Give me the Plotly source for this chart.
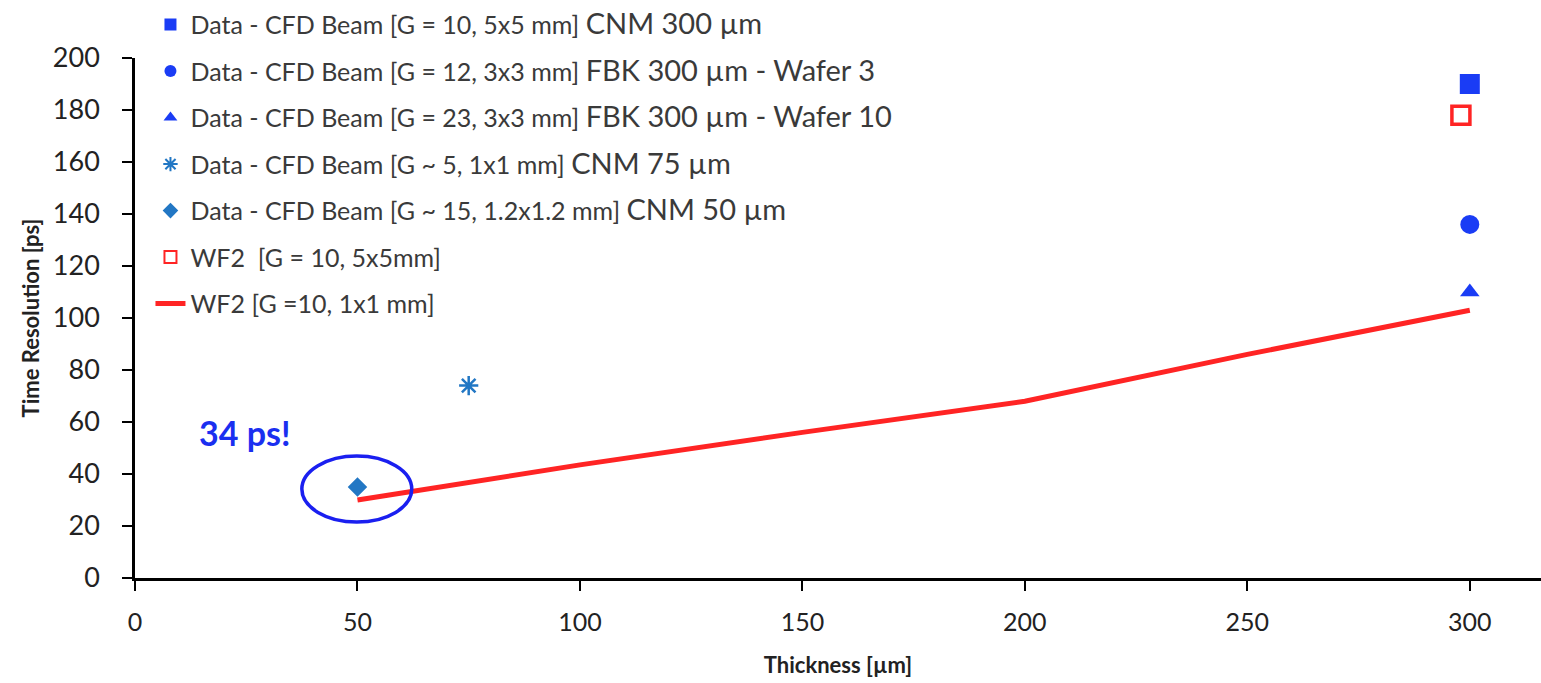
import plotly.graph_objects as go

# ---- data ----
cnm300_x = [300]; cnm300_y = [190]
fbk_w3_x = [300]; fbk_w3_y = [136]
fbk_w10_x = [300]; fbk_w10_y = [110]
cnm75_x = [75]; cnm75_y = [74]
cnm50_x = [50]; cnm50_y = [35]
wf2_5x5_x = [298]; wf2_5x5_y = [178]
wf2_1x1_x = [50, 100, 150, 200, 250, 300]
wf2_1x1_y = [30, 43.5, 56, 68, 86, 103]

x_ticks = [0, 50, 100, 150, 200, 250, 300]
y_ticks = [0, 20, 40, 60, 80, 100, 120, 140, 160, 180, 200]

BLUE = "#1a3cf5"
STEEL = "#2277c4"
RED = "#ff2424"
FONT = "Lato"
BIG = 29

def nm(small, big=""):
    if big:
        return f"{small} <span style='font-size:{BIG}px'>{big}</span>"
    return small

fig = go.Figure()
fig.add_trace(go.Scatter(x=cnm300_x, y=cnm300_y, mode="markers", legendgroup="a",
    name=nm("Data - CFD Beam [G = 10, 5x5 mm]", "CNM 300 µm"),
    marker=dict(symbol="square", size=20, color=BLUE)))
fig.add_trace(go.Scatter(x=fbk_w3_x, y=fbk_w3_y, mode="markers", legendgroup="b",
    name=nm("Data - CFD Beam [G = 12, 3x3 mm]", "FBK 300 µm - Wafer 3"),
    marker=dict(symbol="circle", size=19, color=BLUE)))
fig.add_trace(go.Scatter(x=fbk_w10_x, y=fbk_w10_y, mode="markers", legendgroup="c",
    name=nm("Data - CFD Beam [G = 23, 3x3 mm]", "FBK 300 µm - Wafer 10"),
    marker=dict(symbol="triangle-up", size=17, color=BLUE)))
fig.add_trace(go.Scatter(x=cnm75_x, y=cnm75_y, mode="markers", legendgroup="d",
    name=nm("Data - CFD Beam [G ~ 5, 1x1 mm]", "CNM 75 µm"),
    marker=dict(symbol="asterisk-open", size=16, color=STEEL, line=dict(width=2.5, color=STEEL))))
fig.add_trace(go.Scatter(x=cnm50_x, y=cnm50_y, mode="markers", legendgroup="e",
    name=nm("Data - CFD Beam [G ~ 15, 1.2x1.2 mm]", "CNM 50 µm"),
    marker=dict(symbol="diamond", size=15, color=STEEL)))
fig.add_trace(go.Scatter(x=wf2_5x5_x, y=wf2_5x5_y, mode="markers", legendgroup="f",
    name=nm("WF2  [G = 10, 5x5mm]"),
    marker=dict(symbol="square", size=18, color="white", line=dict(width=3.5, color=RED))))
fig.add_trace(go.Scatter(x=wf2_1x1_x, y=wf2_1x1_y, mode="lines", legendgroup="g",
    name=nm("WF2 [G =10, 1x1 mm]"),
    line=dict(color=RED, width=5)))

fig.add_shape(type="circle", xref="x", yref="y", x0=37.5, x1=62.2, y0=21.5, y1=46.9,
              line=dict(color="#1a1ff0", width=3.5))
fig.add_annotation(x=24.7, y=56, xref="x", yref="y", text="<b>34 ps!</b>", showarrow=False,
                   font=dict(family=FONT, size=34, color="#1a2ff0"))

fig.update_layout(
    width=1541, height=683,
    margin=dict(l=135, r=0, t=58, b=105),
    paper_bgcolor="white", plot_bgcolor="white",
    font=dict(family=FONT, color="#222"),
    legend=dict(x=0.011, y=1.108, xanchor="left", yanchor="top",
                font=dict(family=FONT, size=25, color="#3a3a3a"),
                bgcolor="rgba(0,0,0,0)", tracegroupgap=11, itemsizing="constant"),
    showlegend=True,
)
fig.update_xaxes(range=[0, 316], tickvals=x_ticks, ticktext=[str(v) for v in x_ticks],
                 showline=True, linecolor="black", linewidth=2.5, ticks="outside",
                 ticklen=10, tickwidth=2, tickcolor="black", showgrid=False, zeroline=False,
                 tickfont=dict(family=FONT, size=25, color="#222"), ticklabelstandoff=10,
                 title=dict(text="<b>Thickness [µm]</b>", font=dict(family=FONT, size=22, color="#222"),
                            standoff=23))
fig.update_yaxes(range=[0, 200], tickvals=y_ticks, ticktext=[str(v) for v in y_ticks],
                 showline=True, linecolor="black", linewidth=2.5, ticks="outside",
                 ticklen=10, tickwidth=2, tickcolor="black", showgrid=False, zeroline=False,
                 tickfont=dict(family=FONT, size=27, color="#222"), ticklabelstandoff=17,
                 title=dict(text="<b>Time Resolution [ps]</b>", font=dict(family=FONT, size=22, color="#222"),
                            standoff=8))

fig.write_html("out.html")
